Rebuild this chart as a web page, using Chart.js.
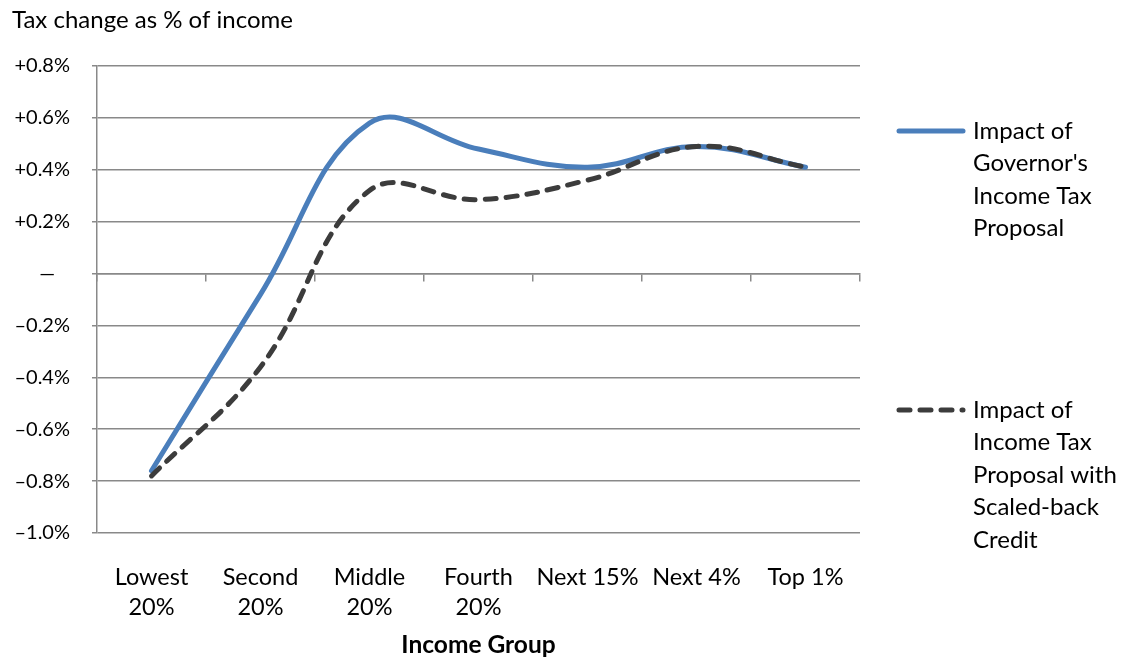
<!DOCTYPE html>
<html>
<head>
<meta charset="utf-8">
<script src="https://cdn.jsdelivr.net/npm/chart.js@4"></script>
<style>
  html, body { margin: 0; padding: 0; background: #fff; }
  #wrap { position: relative; width: 1125px; height: 658px; }
</style>
</head>
<body>
<div id="wrap"><canvas id="chart" width="1125" height="658"></canvas></div>
<script>
// Data
const categories = [["Lowest", "20%"], ["Second", "20%"], ["Middle", "20%"], ["Fourth", "20%"], "Next 15%", "Next 4%", "Top 1%"];
const governorValues = [-0.76, -0.08, 0.58, 0.48, 0.41, 0.49, 0.41];
const scaledBackValues = [-0.78, -0.36, 0.32, 0.285, 0.36, 0.49, 0.41];
const governorLegend = ["Impact of", "Governor's", "Income Tax", "Proposal"];
const scaledBackLegend = ["Impact of", "Income Tax", "Proposal with", "Scaled-back", "Credit"];
const yTickValues = [-1.0, -0.8, -0.6, -0.4, -0.2, 0, 0.2, 0.4, 0.6, 0.8];
const yTickLabels = ["\u20131.0%", "\u20130.8%", "\u20130.6%", "\u20130.4%", "\u20130.2%", "\u2014\u2003", "+0.2%", "+0.4%", "+0.6%", "+0.8%"];

const FONT = "Lato, 'Open Sans', sans-serif";
const GRID = '#898989';

// Legend on the right, drawn from the dataset styles
const sideLegend = {
    id: 'sideLegend',
    afterDraw(chart) {
        const ctx = chart.ctx;
        const entries = [
            { ds: chart.data.datasets[0], lines: governorLegend, y: 131 },
            { ds: chart.data.datasets[1], lines: scaledBackLegend, y: 410 }
        ];
        ctx.save();
        entries.forEach(e => {
            ctx.beginPath();
            ctx.strokeStyle = e.ds.borderColor;
            ctx.lineWidth = e.ds.borderWidth;
            ctx.lineCap = 'round';
            ctx.setLineDash(e.ds.borderDash || []);
            ctx.moveTo(899, e.y);
            ctx.lineTo(963, e.y);
            ctx.stroke();
            ctx.setLineDash([]);
            ctx.fillStyle = '#000';
            ctx.font = '24px ' + FONT;
            ctx.textAlign = 'left';
            ctx.textBaseline = 'middle';
            e.lines.forEach((t, i) => ctx.fillText(t, 973, e.y + i * 32.5));
        });
        ctx.restore();
    }
};

const ctx = document.getElementById('chart').getContext('2d');
new Chart(ctx, {
    type: 'line',
    data: {
        labels: categories,
        datasets: [{
            label: governorLegend.join(' '),
            data: governorValues,
            borderColor: '#4a7ebb',
            borderWidth: 5,
            tension: 0.4,
            pointRadius: 0,
            borderCapStyle: 'round',
            borderJoinStyle: 'round',
            order: 1
        }, {
            label: scaledBackLegend.join(' '),
            data: scaledBackValues,
            borderColor: '#3c3c3c',
            borderWidth: 5,
            borderDash: [11, 10],
            tension: 0.4,
            pointRadius: 0,
            borderCapStyle: 'round',
            borderJoinStyle: 'round',
            order: 0
        }]
    },
    options: {
        responsive: false,
        animation: false,
        events: [],
        layout: { padding: { left: 12, right: 265, top: 0, bottom: 0 } },
        plugins: {
            legend: { display: false },
            tooltip: { enabled: false },
            title: {
                display: true,
                text: 'Tax change as % of income',
                align: 'start',
                color: '#000',
                font: { family: FONT, size: 24, weight: 'normal', lineHeight: 1.2 },
                padding: { top: 5.6, bottom: 31.6 }
            }
        },
        scales: {
            x: {
                position: 'bottom',
                offset: true,
                grid: { display: false, drawTicks: false },
                border: { display: false },
                ticks: {
                    color: '#000',
                    padding: 29,
                    maxRotation: 0,
                    autoSkip: false,
                    font: { family: FONT, size: 23.5, lineHeight: 1.277 }
                },
                title: {
                    display: true,
                    text: 'Income Group',
                    color: '#000',
                    font: { family: FONT, size: 24.5, weight: 'bold', lineHeight: 1.0 },
                    padding: { top: 0, bottom: 1 }
                },
                afterFit(scale) { scale.height = 125; }
            },
            x2: {
                type: 'category',
                position: { y: 0 },
                offset: true,
                grid: { offset: true, drawOnChartArea: false, drawTicks: true, tickLength: 7, color: GRID, lineWidth: 1.5 },
                border: { display: true, color: GRID, width: 1.5 },
                ticks: { display: false }
            },
            y: {
                min: -1.0,
                max: 0.8,
                ticks: {
                    stepSize: 0.2,
                    color: '#000',
                    padding: 22,
                    font: { family: FONT, size: 20 },
                    callback(value) {
                        const i = yTickValues.findIndex(v => Math.abs(v - value) < 1e-6);
                        return i >= 0 ? yTickLabels[i] : '';
                    }
                },
                grid: { color: GRID, lineWidth: 1.5, tickLength: 5 },
                border: { display: true, color: GRID, width: 1.5 },
                afterFit(scale) { scale.width = 85; }
            }
        }
    },
    plugins: [sideLegend]
});
</script>
</body>
</html>
